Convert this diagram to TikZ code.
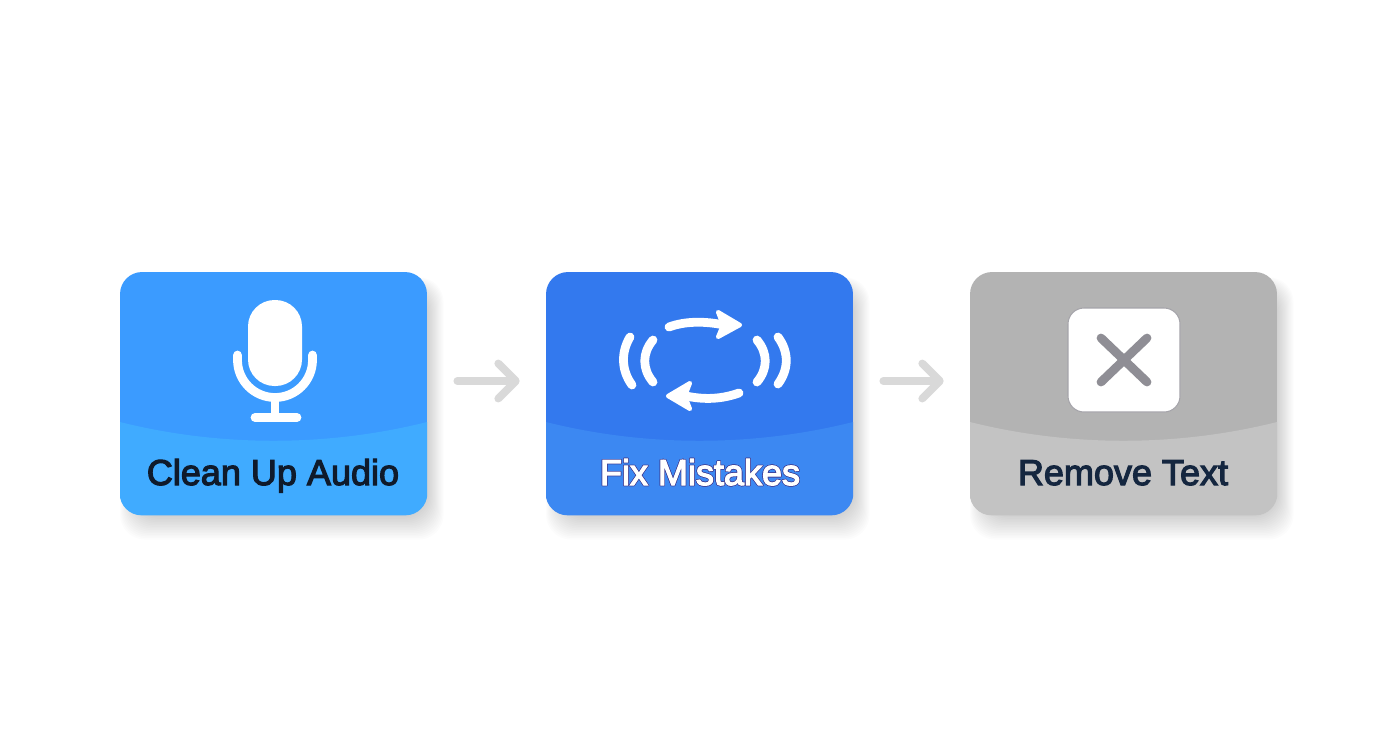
\documentclass[tikz,border=0pt]{standalone}
\usepackage{fontspec}
\usepackage[copies]{contour}
\setmainfont{Liberation Sans}[FakeBold=3.2]
\usetikzlibrary{arrows.meta}
\definecolor{audioTop}{RGB}{59,155,255}
\definecolor{audioLow}{RGB}{64,171,255}
\definecolor{fixTop}{RGB}{51,121,238}
\definecolor{fixLow}{RGB}{60,136,242}
\definecolor{textTop}{RGB}{179,179,179}
\definecolor{textLow}{RGB}{195,195,195}
\definecolor{flowGrey}{RGB}{217,217,217}
\definecolor{crossGrey}{RGB}{143,142,149}
\tikzset{
  card/.style={minimum width=6.14cm, minimum height=4.86cm, rounded corners=0.44cm, inner sep=0pt},
  cardlabel/.style={font=\fontsize{20.5}{24}\selectfont, inner sep=0pt, anchor=base},
  flow/.style={flowGrey, line width=4.4pt, line cap=round, -{Straight Barb[length=10pt, width=20pt, round]}},
  iconline/.style={white, line width=5pt, line cap=round},
  iconhead/.style={white, fill=white, line width=2.4pt, line join=round}
}
\contourlength{0.3pt}
\newcommand{\lowband}[4]{% left edge, right edge, colour, node
  \begin{scope}
    \clip[rounded corners=0.44cm] (#4.south west) rectangle (#4.north east);
    \fill[#3] (#1, 422) .. controls (#1+100, 447) and (#2-100, 447) .. (#2, 422) -- (#2, 520) -- (#1, 520) -- cycle;
  \end{scope}
}
\begin{document}
\begin{tikzpicture}[x=0.02cm, y=-0.02cm]
    \useasboundingbox (0, 0) rectangle (1392, 752);
    \fill[white] (0, 0) rectangle (1392, 752);
    \foreach \left in {120, 546, 970} {
      \foreach \k in {1, ..., 16} {
        \fill[black, opacity=0.011, rounded corners=0.5cm] (\left+16-\k*1.0, 272+18-\k*0.8) rectangle (\left+307-1+\k*1.1, 515-1+\k*1.6);
      }
    }
    \node[card, fill=audioTop] (clean) at (273.5, 393.5) {};
    \node[card, fill=fixTop] (fix) at (699.5, 393.5) {};
    \node[card, fill=textTop] (remove) at (1123.5, 393.5) {};
    \lowband{120}{427}{audioLow}{clean}
    \lowband{546}{853}{fixLow}{fix}
    \lowband{970}{1277}{textLow}{remove}
    \node[cardlabel, text={rgb,255:red,15;green,26;blue,43}] (cleanlabel) at (273, 485) {Clean Up Audio};
    \node[cardlabel, text=white] (fixlabel) at (700, 485) {\contour{blue!45!black!75}{Fix Mistakes}};
    \node[cardlabel, text={rgb,255:red,20;green,38;blue,63}] (removelabel) at (1123, 485) {Remove Text};
    % connectors
    \draw[flow] ([xshift=0.6cm, yshift=0.25cm]clean.east) -- ([xshift=-0.52cm, yshift=0.25cm]fix.west);
    \draw[flow] ([xshift=0.6cm, yshift=0.25cm]fix.east) -- ([xshift=-0.52cm, yshift=0.25cm]remove.west);
    % microphone
    \fill[white, rounded corners=0.53cm] (248, 300) rectangle (302, 386);
    \draw[iconline] (237.5, 355) -- (237.5, 360) arc [start angle=180, end angle=0, radius=37.5] -- (312.5, 355);
    \draw[iconline, line cap=butt] (275, 397) -- (275, 417);
    \draw[iconline] (255, 417.5) -- (297, 417.5);
    % swap icon
    \draw[iconline] (669, 327) .. controls (685, 321) and (705, 321) .. (724, 325);
    \draw[iconhead] (740, 325) -- (718, 312) -- (723, 325) -- (718, 337) -- cycle;
    \draw[iconline] (739, 393) .. controls (722, 399) and (705, 400) .. (686, 396);
    \draw[iconhead] (668, 396) -- (690, 383) -- (685, 396) -- (690, 409) -- cycle;
    \draw[iconline] (630, 337) .. controls (621, 352) and (621, 370) .. (632, 385);
    \draw[iconline] (653, 340) .. controls (642, 353) and (642, 369) .. (653, 382);
    \draw[iconline] (757, 340) .. controls (768, 353) and (768, 369) .. (757, 382);
    \draw[iconline] (778, 337) .. controls (789, 352) and (789, 369) .. (778, 384);
    % cross
    \draw[crossGrey!80, fill=white, line width=0.6pt, rounded corners=0.32cm] (1068, 308) rectangle (1180, 412);
    \draw[crossGrey, line width=5pt, line cap=round] (1101, 338) -- (1147, 382);
    \draw[crossGrey, line width=5pt, line cap=round] (1147, 338) -- (1101, 382);
\end{tikzpicture}
\end{document}
